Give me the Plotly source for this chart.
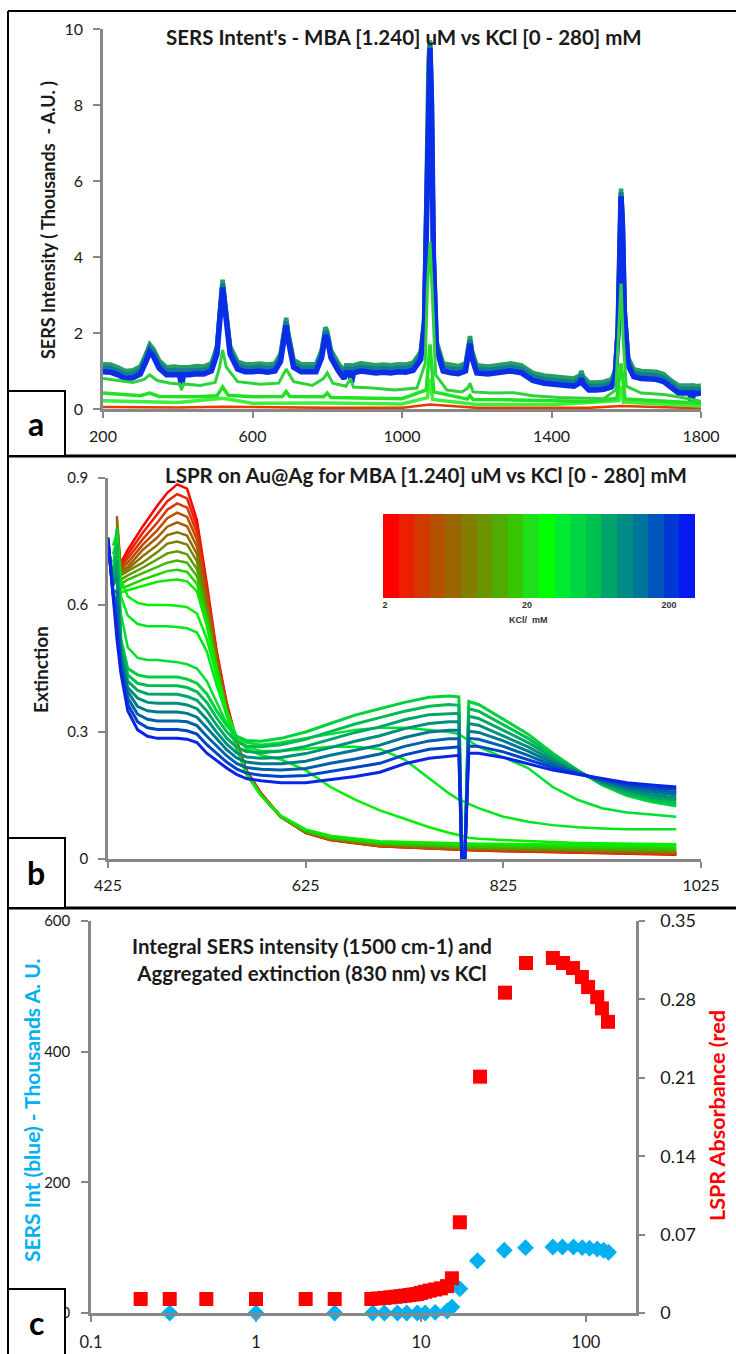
import math
import plotly.graph_objects as go

W, H = 736, 1354

# ---------------- Panel a : SERS spectra (Raman shift cm-1, intensity in thousands A.U.) -------------
SERS_X = [200, 220, 240, 260, 280, 300, 315, 325, 335, 350, 370, 390, 405, 410, 415, 430, 450, 470, 490,
          505, 512, 520, 528, 540, 560, 580, 600, 620, 640, 660, 675, 685, 690, 695, 710, 730, 750, 770,
          785, 795, 800, 810, 830, 845, 850, 860, 865, 870, 890, 910, 930, 950, 970, 990, 1010, 1030, 1050,
          1060, 1066, 1071, 1075, 1079, 1084, 1092, 1110, 1130, 1150, 1170, 1177, 1182, 1187, 1200, 1230,
          1260, 1290, 1320, 1350, 1380, 1410, 1440, 1460, 1475, 1480, 1485, 1500, 1520, 1540, 1560, 1570,
          1578, 1582, 1586, 1590, 1595, 1605, 1620, 1640, 1660, 1680, 1700, 1720, 1740, 1760, 1770, 1775,
          1780, 1790, 1800]
SERS_HIGH_KCL = [0.98, 0.97, 0.9, 0.8, 0.82, 0.92, 1.25, 1.5, 1.38, 1.08, 0.9, 0.92, 0.9, 0.6, 0.9, 0.9, 0.93,
                 0.92, 1.0, 1.45, 2.3, 3.2, 2.5, 1.45, 1.05, 0.98, 0.98, 1.0, 0.97, 1.0, 1.25, 1.95, 2.2, 1.85,
                 1.1, 0.98, 0.97, 0.98, 1.35, 1.95, 1.85, 1.35, 1.0, 0.8, 0.95, 0.95, 0.7, 0.95, 1.0, 0.98, 0.95,
                 0.97, 0.95, 0.98, 0.97, 1.02, 1.3, 2.2, 5.5, 9.0, 9.5, 8.0, 4.0, 1.6, 1.0, 0.95, 0.93, 1.0,
                 1.45, 1.72, 1.35, 0.95, 0.92, 0.95, 1.0, 0.95, 0.75, 0.68, 0.66, 0.62, 0.6, 0.68, 0.8, 0.65,
                 0.5, 0.5, 0.52, 0.58, 0.8, 2.0, 4.5, 5.6, 4.8, 2.5, 1.15, 0.85, 0.8, 0.8, 0.78, 0.72, 0.55,
                 0.42, 0.42, 0.42, 0.15, 0.42, 0.4, 0.42]

GREEN_A_X = [200, 240, 280, 310, 325, 345, 380, 405, 410, 415, 460, 500, 512, 520, 530, 560, 620, 670, 690,
             710, 760, 790, 800, 815, 850, 862, 870, 920, 980, 1040, 1062, 1068, 1075, 1082, 1090, 1120, 1160,
             1176, 1182, 1190, 1240, 1300, 1350, 1420, 1480, 1540, 1572, 1580, 1586, 1592, 1600, 1640, 1700,
             1750, 1800]
GREEN_A_Y = [0.8, 0.75, 0.7, 0.78, 0.9, 0.75, 0.68, 0.66, 0.5, 0.66, 0.62, 0.7, 1.1, 1.55, 1.1, 0.72, 0.65,
             0.68, 1.05, 0.72, 0.62, 0.8, 0.95, 0.68, 0.6, 0.8, 0.58, 0.55, 0.5, 0.55, 1.2, 3.2, 4.4, 2.8, 0.9,
             0.5, 0.45, 0.55, 0.68, 0.45, 0.42, 0.43, 0.35, 0.3, 0.28, 0.27, 0.5, 2.0, 3.3, 1.8, 0.6, 0.42,
             0.38, 0.3, 0.2]

GREEN_B_X = [200, 300, 325, 350, 450, 505, 520, 535, 600, 680, 690, 700, 790, 800, 810, 900, 1000, 1065,
             1075, 1085, 1175, 1182, 1190, 1300, 1400, 1500, 1575, 1586, 1597, 1700, 1800]
GREEN_B_Y = [0.42, 0.35, 0.42, 0.33, 0.32, 0.35, 0.58, 0.36, 0.32, 0.33, 0.46, 0.33, 0.32, 0.42, 0.3, 0.28,
             0.27, 0.5, 1.7, 0.45, 0.26, 0.35, 0.25, 0.24, 0.22, 0.2, 0.28, 1.2, 0.26, 0.2, 0.15]

GREEN_C_X = [200, 400, 520, 600, 800, 1000, 1068, 1075, 1082, 1200, 1400, 1580, 1586, 1592, 1800]
GREEN_C_Y = [0.22, 0.17, 0.28, 0.15, 0.16, 0.13, 0.3, 0.8, 0.25, 0.12, 0.11, 0.22, 0.6, 0.18, 0.08]

LOW_KCL_X = [200, 400, 520, 800, 1000, 1075, 1200, 1500, 1586, 1800]
LOW_KCL_Y = [0.05, 0.04, 0.06, 0.03, 0.03, 0.12, 0.03, 0.03, 0.08, 0.02]

SERS_XTICKS = [200, 600, 1000, 1400, 1800]
SERS_YTICKS = [0, 2, 4, 6, 8, 10]

# ---------------- Panel b : LSPR extinction spectra (wavelength nm) -------------
WL_N = [434, 438, 445, 460, 475, 485, 495, 505, 515, 525, 535, 545, 555, 565, 580, 600, 625, 650, 700, 800, 1000]
NONAGG = [
    [None, .70, .73, .785, .835, .865, .885, .875, .80, .65, .49, .37, .28, .21, .155, .10, .062, .045, .03, .02, .01],
    [None, .695, .72, .77, .815, .845, .862, .852, .785, .64, .485, .367, .278, .209, .154, .10, .062, .045, .03, .02, .011],
    [None, .69, .71, .755, .795, .825, .84, .83, .77, .632, .48, .364, .276, .208, .153, .099, .062, .046, .031, .021, .012],
    [.78, .685, .70, .742, .777, .805, .818, .808, .755, .622, .475, .361, .274, .207, .152, .099, .063, .046, .031, .022, .013],
    [.81, .68, .69, .73, .76, .785, .795, .786, .738, .612, .47, .358, .272, .206, .151, .099, .063, .047, .032, .023, .014],
    [.80, .675, .685, .715, .742, .765, .772, .764, .72, .60, .465, .355, .27, .205, .15, .099, .064, .048, .033, .024, .016],
    [.79, .67, .68, .70, .725, .745, .75, .743, .703, .59, .46, .352, .268, .204, .15, .099, .064, .048, .034, .025, .018],
    [.78, .66, .67, .688, .708, .722, .727, .72, .685, .58, .455, .349, .266, .203, .15, .10, .065, .049, .035, .027, .02],
    [.77, .65, .66, .675, .69, .70, .705, .70, .668, .57, .45, .346, .264, .202, .15, .10, .066, .05, .037, .029, .023],
    [.76, .64, .645, .66, .672, .68, .683, .678, .65, .56, .445, .343, .262, .201, .15, .101, .068, .052, .039, .032, .027],
    [.75, .63, .635, .645, .655, .658, .66, .656, .632, .55, .44, .34, .26, .20, .15, .102, .07, .055, .042, .036, .032],
]
NONAGG_COLORS = ['#ff0000', '#ec1e00', '#d83600', '#c04a00', '#a85c00', '#8e7000', '#768400', '#5c9c00',
                 '#40b800', '#22d400', '#08ec00']

WL = [425, 430, 434, 438, 445, 455, 465, 475, 485, 495, 505, 515, 525, 535, 545, 555, 565, 580, 600, 625,
      650, 675, 700, 725, 750, 770, 780, 783, 786, 790, 800, 825, 850, 875, 900, 925, 950, 975, 1000]
TRANS = [
    [None, 0.74, 0.77, 0.66, 0.62, 0.605, 0.60, 0.60, 0.60, 0.598, 0.595, 0.58, 0.52, 0.43, 0.35, 0.29, 0.26,
     0.245, 0.235, 0.21, 0.17, 0.14, 0.115, 0.095, 0.075, 0.062, 0.057, 0.055, 0.053, 0.05, 0.048, 0.045,
     0.042, 0.04, 0.038, 0.037, 0.036, 0.035, 0.035],
    [None, 0.72, 0.75, 0.62, 0.575, 0.555, 0.55, 0.55, 0.55, 0.548, 0.545, 0.535, 0.49, 0.41, 0.34, 0.29,
     0.265, 0.255, 0.255, 0.26, 0.265, 0.265, 0.26, 0.235, 0.19, 0.155, 0.14, 0.138, 0.135, 0.13, 0.12, 0.10,
     0.088, 0.08, 0.075, 0.072, 0.07, 0.07, 0.07],
    [None, 0.70, 0.73, 0.58, 0.50, 0.475, 0.47, 0.47, 0.468, 0.465, 0.46, 0.45, 0.42, 0.37, 0.32, 0.29, 0.275,
     0.27, 0.275, 0.285, 0.295, 0.305, 0.31, 0.31, 0.305, 0.30, 0.295, 0.29, 0.285, 0.28, 0.265, 0.24, 0.215,
     0.17, 0.14, 0.12, 0.11, 0.105, 0.10],
]
TRANS_COLORS = ['#00f000', '#00e81c', '#00e030']

AGG = [
    [0.74, 0.66, 0.78, 0.52, 0.45, 0.435, 0.43, 0.43, 0.43, 0.43, 0.425, 0.415, 0.39, 0.35, 0.315, 0.29, 0.28,
     0.278, 0.285, 0.30, 0.32, 0.34, 0.355, 0.37, 0.382, 0.385, 0.383, 0, 0, 0.372, 0.365, 0.33, 0.295, 0.25,
     0.21, 0.175, 0.15, 0.135, 0.125],
    [0.745, 0.655, 0.745, 0.51, 0.435, 0.415, 0.41, 0.41, 0.409, 0.409, 0.405, 0.395, 0.37, 0.333, 0.301,
     0.277, 0.267, 0.265, 0.27, 0.283, 0.301, 0.319, 0.334, 0.349, 0.361, 0.365, 0.363, 0, 0, 0.355, 0.349,
     0.317, 0.285, 0.244, 0.209, 0.177, 0.154, 0.141, 0.131],
    [0.745, 0.65, 0.705, 0.50, 0.42, 0.398, 0.39, 0.389, 0.389, 0.389, 0.384, 0.375, 0.35, 0.316, 0.286,
     0.264, 0.254, 0.251, 0.255, 0.266, 0.282, 0.299, 0.312, 0.329, 0.341, 0.344, 0.344, 0, 0, 0.337, 0.332,
     0.304, 0.275, 0.239, 0.207, 0.179, 0.159, 0.146, 0.138],
    [0.75, 0.645, 0.67, 0.485, 0.405, 0.38, 0.37, 0.368, 0.368, 0.368, 0.364, 0.355, 0.33, 0.299, 0.272,
     0.251, 0.241, 0.238, 0.24, 0.249, 0.263, 0.278, 0.291, 0.308, 0.32, 0.324, 0.324, 0, 0, 0.32, 0.316,
     0.291, 0.265, 0.233, 0.206, 0.181, 0.163, 0.152, 0.144],
    [0.75, 0.635, 0.63, 0.475, 0.395, 0.36, 0.35, 0.347, 0.347, 0.347, 0.344, 0.335, 0.31, 0.283, 0.258,
     0.239, 0.229, 0.225, 0.225, 0.231, 0.245, 0.257, 0.269, 0.287, 0.30, 0.304, 0.304, 0, 0, 0.302, 0.299,
     0.279, 0.255, 0.227, 0.204, 0.184, 0.167, 0.158, 0.151],
    [0.755, 0.63, 0.595, 0.465, 0.38, 0.342, 0.33, 0.326, 0.326, 0.326, 0.324, 0.315, 0.29, 0.266, 0.244,
     0.226, 0.216, 0.212, 0.21, 0.214, 0.226, 0.236, 0.248, 0.266, 0.279, 0.284, 0.284, 0, 0, 0.285, 0.283,
     0.266, 0.245, 0.221, 0.203, 0.186, 0.171, 0.164, 0.157],
    [0.755, 0.625, 0.555, 0.45, 0.365, 0.324, 0.31, 0.306, 0.306, 0.306, 0.303, 0.295, 0.27, 0.249, 0.229,
     0.213, 0.203, 0.198, 0.195, 0.197, 0.207, 0.216, 0.226, 0.246, 0.259, 0.263, 0.265, 0, 0, 0.267, 0.266,
     0.253, 0.235, 0.216, 0.201, 0.188, 0.176, 0.169, 0.164],
    [0.76, 0.62, 0.52, 0.44, 0.35, 0.305, 0.29, 0.285, 0.285, 0.285, 0.283, 0.275, 0.25, 0.232, 0.215, 0.20,
     0.19, 0.185, 0.18, 0.18, 0.188, 0.195, 0.205, 0.225, 0.238, 0.243, 0.245, 0, 0, 0.25, 0.25, 0.24, 0.225,
     0.21, 0.20, 0.19, 0.18, 0.175, 0.17],
]
AGG_COLORS = ['#00d23c', '#00bc52', '#00a666', '#00907a', '#00788e', '#0060aa', '#0044c8', '#0a24e6']

LSPR_XTICKS = [425, 625, 825, 1025]
LSPR_YTICKS = [0, 0.3, 0.6, 0.9]

# colour key (KCl, mM)
STRIP_COLORS = ['#ff0000', '#ea2000', '#d03a00', '#b45200', '#9a6600', '#847e00', '#6a9400', '#50ac00',
                '#38c600', '#1ee01a', '#00ff00', '#00ec30', '#00d640', '#00c050', '#00a46a', '#008c84',
                '#00749c', '#0056bc', '#0038d6', '#0818f0']
KEY_MIN_MM, KEY_MAX_MM = 1.94, 305
KEY_TICKS = [2, 20, 200]

# ---------------- Panel c : integral SERS intensity & aggregated extinction vs KCl -------------
KCL_SERS = [0.3, 1, 3, 5.1, 6, 7.2, 8.2, 9.5, 10.6, 12.2, 14.4, 15.4, 17.2, 22, 32, 43, 63, 72, 84, 95,
            105, 117, 128, 137]
SERS_INT = [0, 0, 0, 0, 0, 0, 0, 0, 0, 1, 3, 9, 37, 80, 96, 100, 101, 101, 101, 100, 99, 98, 96, 93]

KCL_LSPR = [0.2, 0.3, 0.5, 1, 2, 3, 5, 5.5, 6, 6.5, 7, 7.5, 8, 8.5, 9, 9.5, 10, 10.6, 11.3, 12.2, 13.2, 14.4,
            15.4, 17.2, 22.8, 32.3, 43.3, 63, 72.6, 83.4, 94.5, 103, 117, 125, 136]
LSPR_ABS = [0.0125, 0.0125, 0.0125, 0.0125, 0.0125, 0.0125, 0.0125, 0.013, 0.0135, 0.014, 0.0145, 0.015,
            0.0155, 0.016, 0.0165, 0.017, 0.018, 0.019, 0.02, 0.021, 0.022, 0.024, 0.031, 0.081, 0.211, 0.286,
            0.3125, 0.317, 0.3125, 0.308, 0.30, 0.291, 0.282, 0.272, 0.26]

KCL_TICKS = [0.1, 1, 10, 100]
SERS_INT_TICKS = [0, 200, 400, 600]
LSPR_ABS_TICKS = [0, 0.07, 0.14, 0.21, 0.28, 0.35]


# ---------------- helpers (pixel -> paper) -------------
def fx(p):
    return p / W


def fy(p):
    return 1 - p / H


FONT = 'Lato'
AX_COL = '#878787'
TXT = '#1a1a1a'


def axstyle(size, **kw):
    d = dict(showline=True, linecolor=AX_COL, linewidth=2.5, ticks='outside', tickcolor=AX_COL,
             tickwidth=2, ticklen=6, showgrid=False, zeroline=False, automargin=False,
             tickfont=dict(family=FONT, size=size, color=TXT))
    d.update(kw)
    return d


def hidden(**kw):
    d = dict(visible=False, automargin=False, showgrid=False, zeroline=False)
    d.update(kw)
    return d


fig = go.Figure()

# ---- panel a traces
fig.add_trace(go.Scatter(x=LOW_KCL_X, y=LOW_KCL_Y, mode='lines', xaxis='x', yaxis='y',
                         line=dict(color='#e83a00', width=2.5)))
fig.add_trace(go.Scatter(x=SERS_X, y=SERS_HIGH_KCL, mode='lines', xaxis='x', yaxis='y6',
                         line=dict(color='#25a060', width=4.5)))
fig.add_trace(go.Scatter(x=SERS_X, y=SERS_HIGH_KCL, mode='lines', xaxis='x', yaxis='y7',
                         line=dict(color='#157a98', width=5)))
fig.add_trace(go.Scatter(x=SERS_X, y=SERS_HIGH_KCL, mode='lines', xaxis='x', yaxis='y8',
                         line=dict(color='#0a2ee8', width=5.5)))
for gx, gy, col, wd in [(GREEN_C_X, GREEN_C_Y, '#3cf03c', 3.5), (GREEN_B_X, GREEN_B_Y, '#22e022', 3.5),
                        (GREEN_A_X, GREEN_A_Y, '#2ed23a', 3)]:
    fig.add_trace(go.Scatter(x=gx, y=gy, mode='lines', xaxis='x', yaxis='y9', line=dict(color=col, width=wd)))

# ---- panel b traces
for ys, col in zip(NONAGG, NONAGG_COLORS):
    fig.add_trace(go.Scatter(x=WL_N, y=ys, mode='lines', xaxis='x2', yaxis='y2',
                             line=dict(color=col, width=2.5)))
for ys, col in zip(TRANS, TRANS_COLORS):
    fig.add_trace(go.Scatter(x=WL, y=ys, mode='lines', xaxis='x2', yaxis='y2',
                             line=dict(color=col, width=2.5)))
for ys, col in zip(AGG, AGG_COLORS):
    fig.add_trace(go.Scatter(x=WL, y=ys, mode='lines', xaxis='x2', yaxis='y2',
                             line=dict(color=col, width=3)))

# colour key as a heatmap strip
lo, hi = math.log10(KEY_MIN_MM), math.log10(KEY_MAX_MM)
n = len(STRIP_COLORS)
step = (hi - lo) / n
fig.add_trace(go.Heatmap(z=[list(range(n))], x0=lo + step / 2, dx=step, y=[0], xaxis='x5', yaxis='y5',
                         colorscale=[[i / (n - 1), c] for i, c in enumerate(STRIP_COLORS)],
                         zmin=0, zmax=n - 1, showscale=False, hoverinfo='skip'))

# ---- panel c traces
fig.add_trace(go.Scatter(x=KCL_SERS, y=SERS_INT, mode='markers', xaxis='x3', yaxis='y3', cliponaxis=False,
                         marker=dict(symbol='diamond', size=13, color='#00b0f0')))
fig.add_trace(go.Scatter(x=KCL_LSPR, y=LSPR_ABS, mode='markers', xaxis='x3', yaxis='y4', cliponaxis=False,
                         marker=dict(symbol='square', size=14, color='#ff0000')))

# ---------------- layout -------------
layout = dict(
    template='none',
    width=W, height=H, autosize=False, margin=dict(l=0, r=0, t=0, b=0, pad=0, autoexpand=False),
    paper_bgcolor='white', plot_bgcolor='rgba(0,0,0,0)',
    showlegend=False, font=dict(family=FONT, color=TXT),
    xaxis=axstyle(16, domain=[fx(103), fx(701)], range=[200, 1800], tickvals=SERS_XTICKS, anchor='y',
                  ticklabelstandoff=5),
    yaxis=axstyle(16, domain=[fy(409), fy(29)], range=[0, 10], tickvals=SERS_YTICKS, anchor='x',
                  ticklen=7, ticklabelstandoff=7),
    yaxis6=hidden(overlaying='y', anchor='x', range=[-0.2, 9.8]),
    yaxis7=hidden(overlaying='y', anchor='x', range=[-0.1, 9.9]),
    yaxis8=hidden(overlaying='y', anchor='x', range=[0, 10]),
    yaxis9=hidden(overlaying='y', anchor='x', range=[0, 10]),
    xaxis2=axstyle(16, domain=[fx(108), fx(701)], range=[425, 1025], tickvals=LSPR_XTICKS, anchor='y2',
                   ticklabelstandoff=4),
    yaxis2=axstyle(15, domain=[fy(859), fy(478)], range=[0, 0.9], tickvals=LSPR_YTICKS,
                   ticktext=[str(v) for v in [0, 0.3, 0.6, 0.9]], anchor='x2', ticklen=7,
                   ticklabelstandoff=7),
    xaxis3=axstyle(16.5, type='log', domain=[fx(91), fx(636)], range=[-1, math.log10(201)],
                   tickvals=KCL_TICKS, ticktext=['0.1', '1', '10', '100'], anchor='y3', ticklabelstandoff=6),
    yaxis3=axstyle(15, domain=[fy(1313), fy(921)], range=[0, 600], tickvals=SERS_INT_TICKS, anchor='x3',
                   ticklen=7, ticklabelstandoff=8),
    yaxis4=axstyle(18, overlaying='y3', side='right', anchor='x3', range=[0, 0.35], tickvals=LSPR_ABS_TICKS,
                   ticktext=['0', '0.07', '0.14', '0.21', '0.28', '0.35'], ticklabelstandoff=12),
    xaxis5=dict(domain=[fx(383), fx(695)], range=[lo, hi], anchor='y5', showline=False, showgrid=False,
                zeroline=False, ticks='', automargin=False, tickvals=[math.log10(v) for v in KEY_TICKS],
                ticktext=[str(v) for v in KEY_TICKS],
                tickfont=dict(family='Liberation Sans', size=9, color='#333', weight='bold')),
    yaxis5=hidden(domain=[fy(598), fy(514)], anchor='x5', range=[-0.5, 0.5]),
)
fig.update_layout(**layout)

# frame, separators and panel label boxes
shapes = [
    dict(type='line', x0=fx(8), x1=1, y0=fy(11), y1=fy(11), line=dict(color='black', width=2)),
    dict(type='line', x0=fx(8), x1=fx(8), y0=fy(11), y1=0, line=dict(color='black', width=2)),
    dict(type='line', x0=fx(8), x1=1, y0=fy(456), y1=fy(456), line=dict(color='black', width=3)),
    dict(type='line', x0=fx(8), x1=1, y0=fy(908), y1=fy(908), line=dict(color='black', width=3)),
]
for top, bot in [(391, 456), (838, 908), (1289, 1356)]:
    shapes.append(dict(type='rect', x0=fx(8), x1=fx(65), y0=fy(bot), y1=fy(top), fillcolor='white',
                       line=dict(color='black', width=2), layer='above'))
fig.update_layout(shapes=[dict(s, xref='paper', yref='paper') for s in shapes])

ann = []


def add_text(text, px, py, size, color=TXT, angle=0, family=FONT):
    ann.append(dict(text=text, x=fx(px), y=fy(py), xref='paper', yref='paper', showarrow=False,
                    xanchor='center', yanchor='middle', textangle=angle,
                    font=dict(family=family, size=size, color=color)))


add_text("<b>SERS Intent's - MBA [1.240] uM vs KCl [0 - 280] mM</b>", 404, 37, 20.5)
add_text("<b>LSPR on Au@Ag for MBA [1.240] uM vs KCl [0 - 280] mM</b>", 426, 475, 20.5)
add_text("<b>Integral SERS intensity (1500 cm-1) and<br>Aggregated extinction (830 nm) vs KCl</b>",
         312, 959, 20.5)
add_text("<b>SERS Intensity ( Thousands  - A.U. )</b>", 48, 220, 18, angle=-90)
add_text("<b>Extinction</b>", 40, 670, 19, angle=-90)
add_text("<b>SERS Int (blue) - Thousands A. U.</b>", 31, 1111, 21, color='#00b0f0', angle=-90)
add_text("<b>LSPR Absorbance (red</b>", 717, 1116, 21.5, color='#ff0000', angle=-90)
add_text("<b>a</b>", 36, 423, 32, color='black')
add_text("<b>b</b>", 36, 872, 32, color='black')
add_text("<b>c</b>", 36, 1322, 32, color='black')
add_text("<b>KCl/  mM</b>", 528, 620, 9, color='#333', family='Liberation Sans')
fig.update_layout(annotations=ann)

fig.write_html("out.html")
